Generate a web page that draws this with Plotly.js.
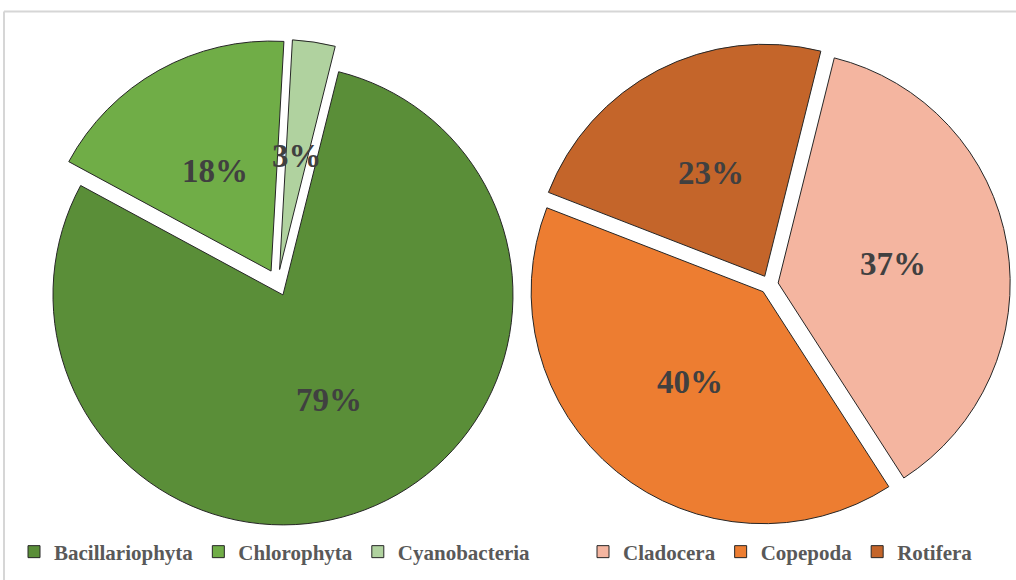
<!DOCTYPE html>
<html>
<head>
<meta charset="utf-8">
<script src="https://cdn.plot.ly/plotly-3.0.1.min.js"></script>
<style>
  html, body { margin: 0; padding: 0; background: #ffffff; }
  #chart { width: 1016px; height: 580px; }
</style>
</head>
<body>
<div id="chart"></div>
<script>
// Phytoplankton composition (%)
const phytoGroups = ['Bacillariophyta', 'Chlorophyta', 'Cyanobacteria'];
const phytoShare = [79, 18, 3];
const phytoColors = ['#5A8E38', '#70AD47', '#B0D29F'];

// Zooplankton composition (%)
const zooGroups = ['Cladocera', 'Copepoda', 'Rotifera'];
const zooShare = [37, 40, 23];
const zooColors = ['#F4B5A0', '#ED7D31', '#C4652A'];

const W = 1016, H = 580;
const START_ANGLE = 14;          // first slice starts 14° clockwise from 12 o'clock
const SERIF = '"Liberation Serif", "Times New Roman", serif';

// pie placement in pixels: centre, radius, explosion
const pies = [
  { cx: 277.6, cy: 282.7, r: 230, pull: 0.058 },
  { cx: 769.0, cy: 284.5, r: 232, pull: 0.040 }
];

function domainFor(p) {
  const half = p.r * (1 + p.pull);
  return {
    x: [(p.cx - half) / W, (p.cx + half) / W],
    y: [1 - (p.cy + half) / H, 1 - (p.cy - half) / H]
  };
}

function pieTrace(labels, values, colors, p, legendId) {
  return {
    type: 'pie',
    labels: labels,
    values: values,
    sort: false,
    direction: 'clockwise',
    rotation: START_ANGLE,
    pull: values.map(() => p.pull),
    domain: domainFor(p),
    marker: { colors: colors, line: { color: '#262626', width: 1 } },
    textinfo: 'none',
    hoverinfo: 'label+percent',
    legend: legendId,
    showlegend: true
  };
}

// percentage labels, placed halfway out along each slice's bisector
function sliceLabels(values, p) {
  const total = values.reduce((a, b) => a + b, 0);
  let cum = 0;
  return values.map(v => {
    const mid = (START_ANGLE + (cum + v / 2) / total * 360) * Math.PI / 180;
    cum += v;
    const d = (p.pull + 0.5) * p.r;
    const px = p.cx + d * Math.sin(mid);
    const py = p.cy - d * Math.cos(mid);
    return {
      xref: 'paper', yref: 'paper',
      x: px / W, y: 1 - py / H,
      xanchor: 'center', yanchor: 'middle',
      text: v + '%',
      showarrow: false,
      font: { family: SERIF, size: 33, color: '#404040', weight: 700 }
    };
  });
}

const data = [
  pieTrace(phytoGroups, phytoShare, phytoColors, pies[0], 'legend'),
  pieTrace(zooGroups, zooShare, zooColors, pies[1], 'legend2')
];

const legendFont = { family: SERIF, size: 21, color: '#595959', weight: 700 };

const layout = {
  width: W,
  height: H,
  margin: { l: 0, r: 0, t: 0, b: 0 },
  paper_bgcolor: '#ffffff',
  plot_bgcolor: '#ffffff',
  annotations: sliceLabels(phytoShare, pies[0]).concat(sliceLabels(zooShare, pies[1])),
  legend: {
    orientation: 'h',
    x: 14 / W, xanchor: 'left',
    y: 1 - 552 / H, yanchor: 'middle',
    font: legendFont,
    bgcolor: 'rgba(0,0,0,0)',
    traceorder: 'normal'
  },
  legend2: {
    orientation: 'h',
    x: 583 / W, xanchor: 'left',
    y: 1 - 552 / H, yanchor: 'middle',
    font: legendFont,
    bgcolor: 'rgba(0,0,0,0)',
    traceorder: 'normal'
  },
  shapes: [
    { type: 'line', xref: 'paper', yref: 'paper', x0: 4 / W, x1: 1, y0: 1 - 11.5 / H, y1: 1 - 11.5 / H,
      line: { color: '#d6d6d6', width: 2 } },
    { type: 'line', xref: 'paper', yref: 'paper', x0: 4 / W, x1: 4 / W, y0: 0, y1: 1 - 11.5 / H,
      line: { color: '#d6d6d6', width: 2 } }
  ]
};

Plotly.newPlot('chart', data, layout, { displayModeBar: false, staticPlot: true });
</script>
</body>
</html>
